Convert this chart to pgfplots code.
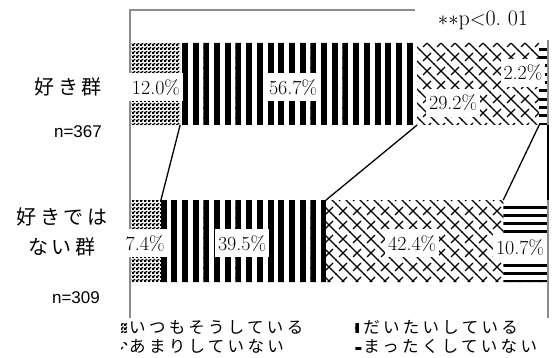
\documentclass[border=0pt]{standalone}
\usepackage{fontspec}
\usepackage{pgfplots}
\pgfplotsset{compat=1.18}
\usetikzlibrary{patterns}
\newfontfamily\jp{Noto Sans CJK JP}[LetterSpace=18]
\newfontfamily\jpl{Noto Sans CJK JP}[LetterSpace=20]
\newfontfamily\arial{Liberation Sans}
\definecolor{framegray}{RGB}{140,140,140}

% fill patterns
\pgfdeclarepatternformonly{checker}{\pgfqpoint{0bp}{0bp}}{\pgfqpoint{4bp}{4bp}}{\pgfqpoint{4bp}{4bp}}{%
  \pgfpathrectangle{\pgfqpoint{0bp}{0bp}}{\pgfqpoint{2.6bp}{2.6bp}}%
  \pgfpathrectangle{\pgfqpoint{2bp}{2bp}}{\pgfqpoint{2bp}{2bp}}%
  \pgfusepath{fill}}
\pgfdeclarepatternformonly{vstripes}{\pgfqpoint{0bp}{-1bp}}{\pgfqpoint{10.7bp}{11bp}}{\pgfqpoint{10.7bp}{10bp}}{%
  \pgfpathrectangle{\pgfqpoint{0bp}{-1bp}}{\pgfqpoint{6bp}{12bp}}%
  \pgfusepath{fill}}
\pgfdeclarepatternformonly{hstripes}{\pgfqpoint{-1bp}{0bp}}{\pgfqpoint{11bp}{8.3bp}}{\pgfqpoint{10bp}{8.3bp}}{%
  \pgfpathrectangle{\pgfqpoint{-1bp}{0bp}}{\pgfqpoint{12bp}{3bp}}%
  \pgfusepath{fill}}
\pgfdeclarepatternformonly{weave}{\pgfqpoint{-1bp}{-1bp}}{\pgfqpoint{15bp}{15bp}}{\pgfqpoint{14bp}{14bp}}{%
  \pgfsetlinewidth{1.1bp}%
  \pgfpathmoveto{\pgfqpoint{-0.5bp}{14.5bp}}\pgfpathlineto{\pgfqpoint{14.5bp}{-0.5bp}}%
  \pgfpathmoveto{\pgfqpoint{3bp}{3bp}}\pgfpathlineto{\pgfqpoint{11bp}{11bp}}%
  \pgfusepath{stroke}}

\begin{document}
\begin{tikzpicture}
\begin{axis}[
    name=main,
    scale only axis, width=418bp, height=308bp,
    xmin=0, xmax=100, ymin=-0.490, ymax=1.471,
    hide axis, clip=false,
    xbar stacked, bar width=0.5223,
    legend columns=2, legend cell align=left,
    legend style={at={(-0.0215,0.0)}, anchor=north west, draw=none, fill=white,
        font=\jpl\fontsize{16.5bp}{18bp}\selectfont, inner sep=0pt,
        /tikz/every even column/.append style={column sep=50bp}},
    legend image code/.code={\fill[#1] (0bp,-5bp) rectangle (6bp,4bp);},
]
\addplot[pattern=checker, draw=none] coordinates {(12.0,1) (7.4,0)};
\addlegendentry{いつもそうしている}
\addplot[pattern=vstripes, draw=none] coordinates {(56.7,1) (39.5,0)};
\addlegendentry{だいたいしている}
\addplot[pattern=weave, draw=none] coordinates {(29.2,1) (42.4,0)};
\addlegendentry{あまりしていない}
\addplot[pattern=hstripes, draw=none] coordinates {(2.2,1) (10.7,0)};
\addlegendentry{まったくしていない}
\end{axis}

\begin{axis}[
    at={(main.south west)}, anchor=south west,
    scale only axis, width=418bp, height=308bp,
    xmin=0, xmax=100, ymin=-0.490, ymax=1.471,
    hide axis, clip=false,
]
% frame
\draw[framegray, line width=1.5bp] (axis cs:0,-0.49) -- (axis cs:0,1.471) -- (axis cs:68.2,1.471);
\draw[framegray, line width=1.5bp] (axis cs:100,1.28) -- (axis cs:100,-0.49);
% connectors between the two bars
\addplot[black, line width=1.3bp, no marks] coordinates {(12.0,0.7389) (7.4,0.2611)};
\addplot[black, line width=1.3bp, no marks] coordinates {(68.7,0.7389) (46.9,0.2611)};
\addplot[black, line width=1.3bp, no marks] coordinates {(97.9,0.7389) (89.3,0.2611)};
\addplot[black, line width=1.3bp, no marks] coordinates {(100,0.7389) (100,0.2611)};
% value labels
\tikzset{vl/.style={fill=white, inner xsep=3bp, inner ysep=6bp, font=\fontsize{20bp}{22bp}\selectfont}}
\node[vl] at (axis cs:6.2,0.98) {12.0\%};
\node[vl] at (axis cs:39.0,0.98) {56.7\%};
\node[vl] at (axis cs:77.3,0.879) {29.2\%};
\node[vl] at (axis cs:94.0,1.07) {2.2\%};
\node[vl] at (axis cs:3.6,-0.013) {7.4\%};
\node[vl] at (axis cs:26.8,-0.013) {39.5\%};
\node[vl] at (axis cs:67.5,-0.013) {42.4\%};
\node[vl] at (axis cs:93.3,-0.044) {10.7\%};
\end{axis}

% group labels
\node[anchor=east, font=\jp\fontsize{20bp}{22bp}\selectfont, inner sep=0pt] at (-28bp,231bp) {好き群};
\node[anchor=east, font=\arial\fontsize{17bp}{19bp}\selectfont, inner sep=0pt] at (-28bp,186bp) {n=367};
\node[align=center, font=\jp\fontsize{20bp}{30bp}\selectfont, inner sep=0pt] at (-68bp,86bp) {好きでは\\ない群};
\node[anchor=east, font=\arial\fontsize{17bp}{19bp}\selectfont, inner sep=0pt] at (-30bp,20bp) {n=309};
\node[font=\fontsize{22bp}{24bp}\selectfont, inner sep=0pt] at (353bp,298bp) {$\ast\ast$p$<$0.\ 01};

\pgfresetboundingbox
\path[use as bounding box] (-130bp,-40bp) rectangle (426bp,318bp);
\end{tikzpicture}
\end{document}
